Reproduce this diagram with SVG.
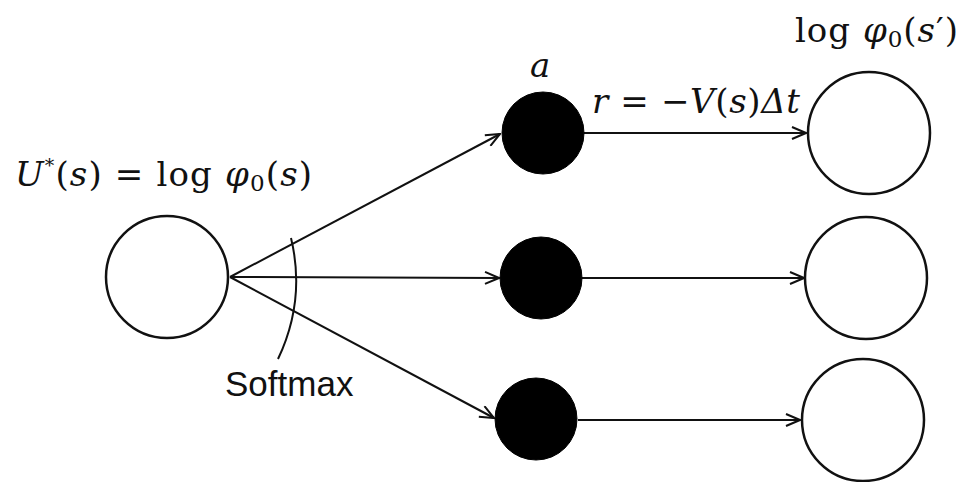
<svg xmlns="http://www.w3.org/2000/svg" width="963" height="482" viewBox="0 0 963 482">
<style>
.open{fill:#fff;stroke:#111;stroke-width:2.5}
.solid{fill:#000;stroke:#000;stroke-width:1}
.edge{stroke:#111;stroke-width:2;fill:none}
.m{font-family:"DejaVu Serif","Liberation Serif",serif;font-size:34px;fill:#111}
.i{font-style:italic}
.sans{font-family:"Liberation Sans",Arial,sans-serif;font-size:35px;fill:#111}
</style>
<defs>
<marker id="arr" markerWidth="16" markerHeight="14" refX="15" refY="7" orient="auto" markerUnits="userSpaceOnUse">
<path d="M1,1 L15,7 L1,13" fill="none" stroke="#111" stroke-width="2"/>
</marker>
</defs>
<g id="connectors">
<line class="edge" x1="230" y1="277" x2="500" y2="134" marker-end="url(#arr)"/>
<line class="edge" x1="230" y1="277" x2="499" y2="278" marker-end="url(#arr)"/>
<line class="edge" x1="230" y1="277" x2="494" y2="418" marker-end="url(#arr)"/>
<line class="edge" x1="584" y1="133" x2="806" y2="133" marker-end="url(#arr)"/>
<line class="edge" x1="582" y1="278" x2="804" y2="278" marker-end="url(#arr)"/>
<line class="edge" x1="578" y1="420" x2="800" y2="420" marker-end="url(#arr)"/>
<path id="softmax-arc" class="edge" d="M291,238 Q306,300 278,359"/>
</g>
<g id="node-root">
<circle class="open" cx="167" cy="277" r="61"/>
<text class="m" x="15" y="186" textLength="297" lengthAdjust="spacing"><tspan class="i">U</tspan><tspan font-size="19" dy="-14">*</tspan><tspan dy="14">(</tspan><tspan class="i">s</tspan>) = log <tspan class="i">φ</tspan><tspan font-size="23" dy="5">0</tspan><tspan dy="-5">(</tspan><tspan class="i">s</tspan>)</text>
</g>
<g id="node-a1">
<circle class="solid" cx="543" cy="133" r="41"/>
<text class="m i" x="530" y="77">a</text>
</g>
<g id="node-a2">
<circle class="solid" cx="541" cy="278" r="41"/>
</g>
<g id="node-a3">
<circle class="solid" cx="536" cy="419" r="41"/>
</g>
<g id="node-s1">
<circle class="open" cx="869" cy="133" r="61"/>
<text class="m" x="795" y="42" textLength="163" lengthAdjust="spacing">log <tspan class="i">φ</tspan><tspan font-size="23" dy="5">0</tspan><tspan dy="-5">(</tspan><tspan class="i">s</tspan>′)</text>
</g>
<g id="node-s2">
<circle class="open" cx="866" cy="278" r="61"/>
</g>
<g id="node-s3">
<circle class="open" cx="863" cy="420" r="61"/>
</g>
<text class="m" x="592" y="113" textLength="208" lengthAdjust="spacing"><tspan class="i">r</tspan> = −<tspan class="i">V</tspan>(<tspan class="i">s</tspan>)<tspan class="i">Δt</tspan></text>
<text class="sans" x="225" y="396">Softmax</text>
</svg>
